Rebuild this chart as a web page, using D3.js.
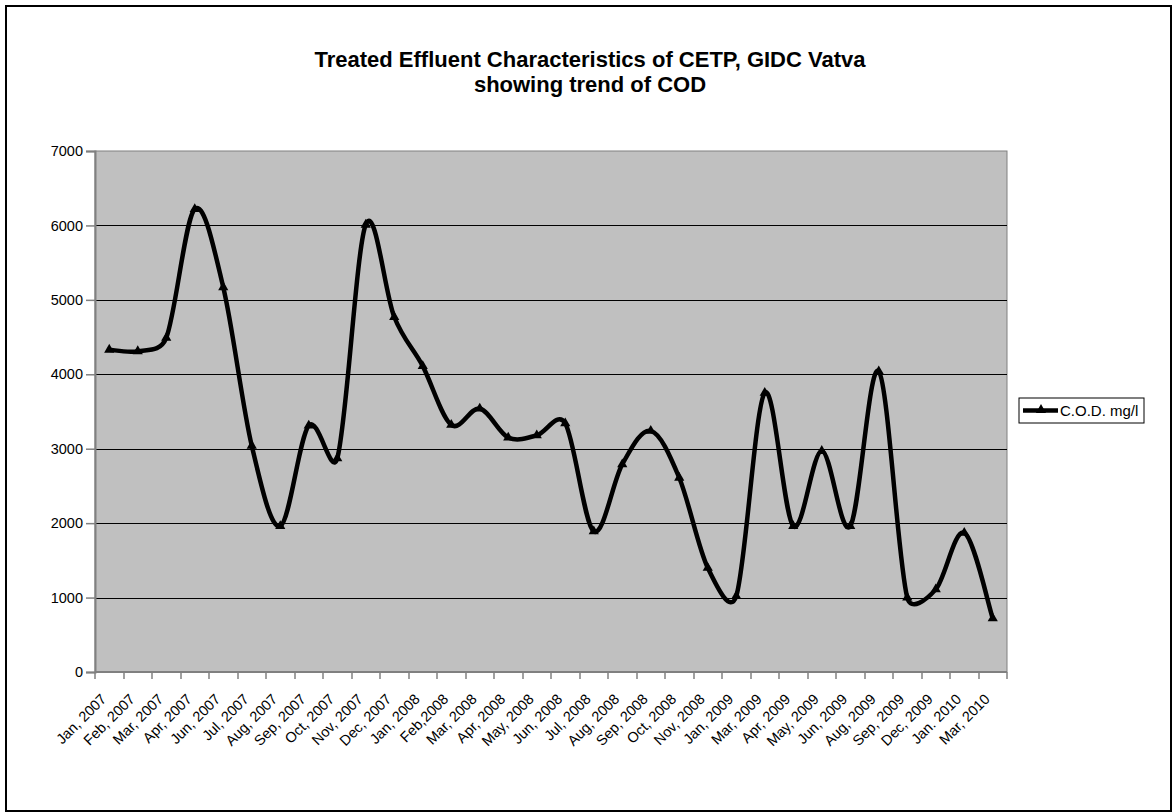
<!DOCTYPE html>
<html>
<head>
<meta charset="utf-8">
<script src="https://cdn.jsdelivr.net/npm/d3@7"></script>
<style>
  html, body { margin: 0; padding: 0; background: #fff; }
  svg { display: block; font-family: Arial, "Liberation Sans", sans-serif; }
</style>
</head>
<body>
<svg id="chart" width="1173" height="812"></svg>
<script>
// Sampling months
const months = [
  "Jan, 2007", "Feb, 2007", "Mar, 2007", "Apr, 2007", "Jun, 2007", "Jul, 2007",
  "Aug, 2007", "Sep, 2007", "Oct, 2007", "Nov, 2007", "Dec, 2007", "Jan, 2008",
  "Feb,2008", "Mar, 2008", "Apr, 2008", "May, 2008", "Jun, 2008", "Jul, 2008",
  "Aug, 2008", "Sep, 2008", "Oct, 2008", "Nov, 2008", "Jan, 2009", "Mar, 2009",
  "Apr, 2009", "May, 2009", "Jun, 2009", "Aug, 2009", "Sep, 2009", "Dec, 2009",
  "Jan. 2010", "Mar, 2010"
];

// C.O.D. of treated effluent, mg/l
const codValues = [
  4330, 4310, 4490, 6220, 5170, 3040,
  1960, 3310, 2870, 6010, 4770, 4110,
  3320, 3540, 3150, 3180, 3340, 1890,
  2790, 3240, 2610, 1400, 1020, 3750,
  1960, 2970, 1960, 4040, 1000, 1110,
  1870, 720
];

const yTicks = [0, 1000, 2000, 3000, 4000, 5000, 6000, 7000];
const seriesName = "C.O.D. mg/l";
const titleLines = ["Treated Effluent Characteristics of CETP, GIDC Vatva", "showing trend of COD"];

const svg = d3.select("#chart");

// outer chart frame
svg.append("rect")
  .attr("x", 6).attr("y", 6)
  .attr("width", 1165).attr("height", 805)
  .attr("fill", "#fff").attr("stroke", "#000").attr("stroke-width", 2);

const plot = { left: 95, top: 151, right: 1007, bottom: 672 };

const x = d3.scaleBand()
  .domain(months)
  .range([plot.left, plot.right])
  .paddingInner(0).paddingOuter(0);

const y = d3.scaleLinear()
  .domain([0, 7000])
  .range([plot.bottom, plot.top]);

// plot area background
svg.append("rect")
  .attr("x", plot.left).attr("y", plot.top)
  .attr("width", plot.right - plot.left).attr("height", plot.bottom - plot.top)
  .attr("fill", "#c0c0c0").attr("stroke", "#808080").attr("stroke-width", 1);

// horizontal gridlines
svg.append("g")
  .selectAll("line")
  .data(yTicks.filter(d => d > 0 && d < 7000))
  .join("line")
  .attr("x1", plot.left).attr("x2", plot.right)
  .attr("y1", d => Math.round(y(d)) + 0.5).attr("y2", d => Math.round(y(d)) + 0.5)
  .attr("stroke", "#000").attr("stroke-width", 1);

// y axis
const yAxis = svg.append("g")
  .attr("transform", `translate(${plot.left},0)`)
  .call(d3.axisLeft(y).tickValues(yTicks).tickSize(9).tickPadding(3).tickFormat(d3.format("d")));
yAxis.select(".domain").attr("stroke", "#808080").attr("stroke-width", 2);
yAxis.selectAll(".tick line").attr("stroke", "#808080").attr("stroke-width", 1.5);
yAxis.selectAll("text").attr("font-size", 14.5).attr("fill", "#000")
  .attr("font-family", "Arial, 'Liberation Sans', sans-serif");

// x axis, ticks on category boundaries
const xAxisG = svg.append("g").attr("transform", `translate(0,${plot.bottom})`);
xAxisG.append("line")
  .attr("x1", plot.left).attr("x2", plot.right)
  .attr("y1", 0).attr("y2", 0)
  .attr("stroke", "#808080").attr("stroke-width", 2);
const boundaries = months.map(m => x(m)).concat([x(months[months.length - 1]) + x.bandwidth()]);
xAxisG.selectAll("line.tk")
  .data(boundaries)
  .join("line")
  .attr("class", "tk")
  .attr("x1", d => Math.round(d)).attr("x2", d => Math.round(d))
  .attr("y1", 0).attr("y2", 7)
  .attr("stroke", "#808080").attr("stroke-width", 1.5);
xAxisG.selectAll("text")
  .data(months)
  .join("text")
  .attr("transform", d => `translate(${x(d) + x.bandwidth() / 2 - 2},${28}) rotate(-45)`)
  .attr("text-anchor", "end")
  .attr("font-size", 14.5)
  .attr("fill", "#000")
  .text(d => d);

// Smoothed line: cubic Bezier segments whose control arms follow the
// neighbouring chord (1/6 of it), capped at half of the segment length.
function smoothPath(p) {
  const path = d3.path();
  const dist = (a, b) => Math.hypot(b[0] - a[0], b[1] - a[1]);
  path.moveTo(p[0][0], p[0][1]);
  for (let i = 0; i < p.length - 1; i++) {
    const p0 = p[Math.max(i - 1, 0)], p1 = p[i], p2 = p[i + 1], p3 = p[Math.min(i + 2, p.length - 1)];
    const d12 = dist(p1, p2), d02 = dist(p0, p2), d13 = dist(p1, p3);
    const f1 = d02 / 6 > d12 / 2 ? (d12 / 2) / d02 : 1 / 6;
    const f2 = d13 / 6 > d12 / 2 ? (d12 / 2) / d13 : 1 / 6;
    const c1 = [p1[0] + (p2[0] - p0[0]) * f1, p1[1] + (p2[1] - p0[1]) * f1];
    const c2 = [p2[0] - (p3[0] - p1[0]) * f2, p2[1] - (p3[1] - p1[1]) * f2];
    path.bezierCurveTo(c1[0], c1[1], c2[0], c2[1], p2[0], p2[1]);
  }
  return path.toString();
}

const pts = months.map((m, i) => [x(m) + x.bandwidth() / 2, y(codValues[i])]);
svg.append("path")
  .attr("d", smoothPath(pts))
  .attr("fill", "none")
  .attr("stroke", "#000")
  .attr("stroke-width", 4.5)
  .attr("stroke-linejoin", "round");

// triangle markers
const tri = d3.symbol().type(d3.symbolTriangle).size(45);
svg.append("g")
  .selectAll("path")
  .data(pts)
  .join("path")
  .attr("transform", d => `translate(${d[0]},${d[1]})`)
  .attr("d", tri)
  .attr("fill", "#000");

// title
svg.append("g")
  .selectAll("text")
  .data(titleLines)
  .join("text")
  .attr("x", 590)
  .attr("y", (d, i) => 67 + i * 25)
  .attr("text-anchor", "middle")
  .attr("font-size", 22)
  .attr("font-weight", "bold")
  .attr("fill", "#000")
  .text(d => d);

// legend
const lg = svg.append("g").attr("transform", "translate(1019,398)");
lg.append("rect")
  .attr("width", 125).attr("height", 25)
  .attr("fill", "#fff").attr("stroke", "#000").attr("stroke-width", 1);
lg.append("line")
  .attr("x1", 4).attr("x2", 39).attr("y1", 12.5).attr("y2", 12.5)
  .attr("stroke", "#000").attr("stroke-width", 4.5);
lg.append("path")
  .attr("transform", "translate(22,12)")
  .attr("d", tri)
  .attr("fill", "#000");
lg.append("text")
  .attr("x", 41).attr("y", 18)
  .attr("font-size", 15)
  .attr("fill", "#000")
  .text(seriesName);
</script>
</body>
</html>
